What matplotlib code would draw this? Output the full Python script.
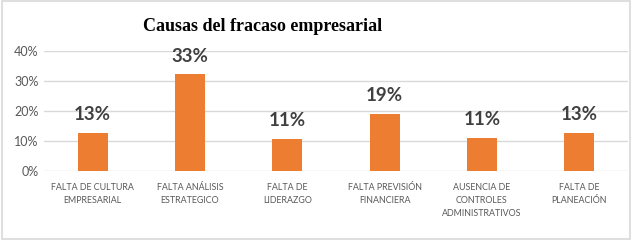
import numpy as np
import matplotlib.pyplot as plt
from matplotlib.patches import Rectangle
from matplotlib.ticker import PercentFormatter

# datos
categorias = ["FALTA DE CULTURA\nEMPRESARIAL", "FALTA ANÁLISIS\nESTRATEGICO", "FALTA DE\nLIDERAZGO",
              "FALTA PREVISIÓN\nFINANCIERA", "AUSENCIA DE\nCONTROLES\nADMINISTRATIVOS", "FALTA DE\nPLANEACIÓN"]
valores = [0.127, 0.323, 0.107, 0.19, 0.11, 0.128]
etiquetas = ["13%", "33%", "11%", "19%", "11%", "13%"]
yticks = [0, 0.1, 0.2, 0.3, 0.4]

naranja = "#ed7d31"
gris_texto = "#595959"

fig = plt.figure(figsize=(6.32, 2.4), dpi=100)
ax = fig.add_axes([0.0696, 0.2875, 0.924, 0.5])

x = np.arange(len(categorias))
ax.bar(x, valores, width=0.31, color=naranja, zorder=3)

for xi, v, t in zip(x, valores, etiquetas):
    ax.annotate(t, (xi, v), xytext=(0, 13), textcoords="offset points", ha="center", va="center",
                fontsize=13.5, fontweight="bold", color="#404040", family="Lato")

ax.set_xlim(-0.5, len(categorias) - 0.5)
ax.set_ylim(0, 0.4)
ax.set_yticks(yticks)
ax.yaxis.set_major_formatter(PercentFormatter(1.0, decimals=0))
ax.grid(axis="y", color="#d9d9d9", linewidth=1, zorder=0)
for s in ax.spines.values():
    s.set_visible(False)
ax.tick_params(axis="both", length=0, colors=gris_texto)
ax.tick_params(axis="y", labelsize=9, pad=4)
ax.set_xticks(x)
ax.set_xticklabels(categorias, fontsize=6.4, family="Lato", color=gris_texto, linespacing=1.5)
ax.tick_params(axis="x", pad=9)
for lbl in ax.get_yticklabels():
    lbl.set_family("Lato")

fig.text(0.415, 0.89, "Causas del fracaso empresarial", ha="center", va="center",
         fontsize=13, fontweight="bold", family="Liberation Serif", color="black")

# marco exterior
fig.patches.append(Rectangle((0.003, 0.005), 0.994, 0.99, transform=fig.transFigure,
                             fill=False, edgecolor="#d9d9d9", linewidth=1.2))

fig.savefig("out.png", dpi=100)
